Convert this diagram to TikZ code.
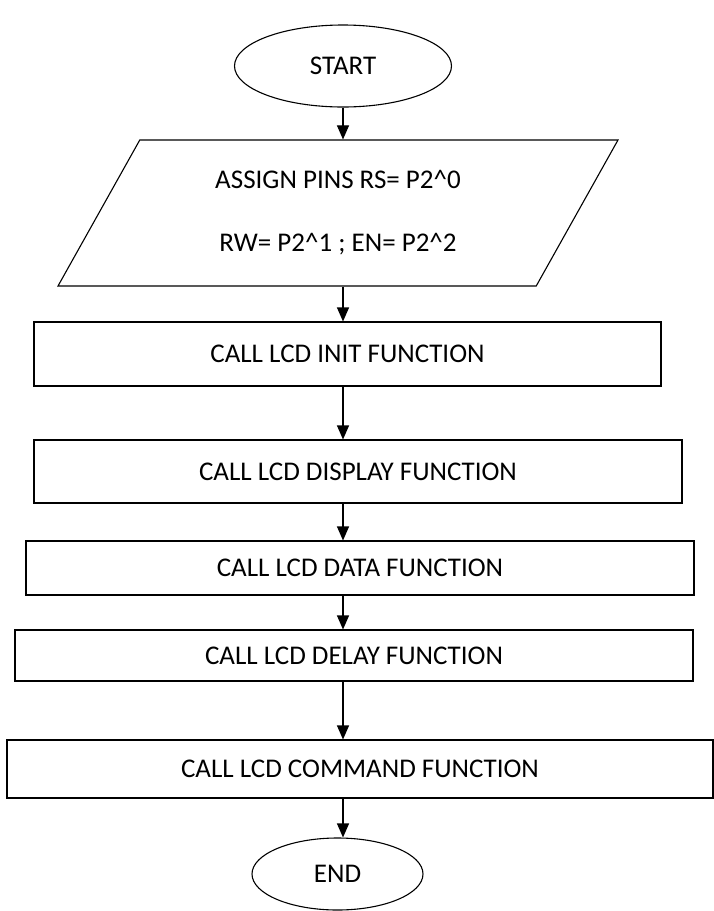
\documentclass[tikz,border=0pt]{standalone}
\usepackage{fontspec}
\setmainfont{Carlito}
\usetikzlibrary{shapes.geometric,arrows.meta}

\begin{document}
\begin{tikzpicture}[x=1pt,y=-1pt,line width=1.1pt,font=\fontsize{27}{32}\selectfont]
            \tikzstyle{term node}=[ellipse,draw,inner sep=0]
            \tikzstyle{io node}=[trapezium,trapezium left angle=46,trapezium right angle=134,trapezium stretches body,draw,align=center,inner sep=0,minimum width=560,minimum height=146]
            \tikzstyle{proc node}=[rectangle,draw,inner sep=0]
            \tikzstyle{flow}=[-{Triangle[length=14pt,width=12pt]}]
            \useasboundingbox (0,0) rectangle (714,911);
            \node(start)[term node,minimum width=217,minimum height=82] at (343,66){START};
            \node(assign)[io node] at (338,213){ASSIGN PINS RS= P2\textasciicircum0\\[31pt]RW= P2\textasciicircum1 ; EN= P2\textasciicircum2};
            \node(init)[proc node,minimum width=627,minimum height=64] at (347.5,354){CALL LCD INIT FUNCTION};
            \node(disp)[proc node,minimum width=648,minimum height=63] at (358,471.5){CALL LCD DISPLAY FUNCTION};
            \node(data)[proc node,minimum width=668,minimum height=54] at (360,568){CALL LCD DATA FUNCTION};
            \node(delay)[proc node,minimum width=678,minimum height=51] at (354,655.5){CALL LCD DELAY FUNCTION};
            \node(cmd)[proc node,minimum width=706,minimum height=58] at (360,769){CALL LCD COMMAND FUNCTION};
            \node(end)[term node,minimum width=171,minimum height=72] at (337.5,874){END};
            % arrows all run down the same vertical line
            \foreach \a/\b in {start/assign,assign/init,init/disp,disp/data,data/delay,delay/cmd,cmd/end}
              \draw[flow] (\a.south -| start) -- (\b.north -| start);
          \end{tikzpicture}
\end{document}
